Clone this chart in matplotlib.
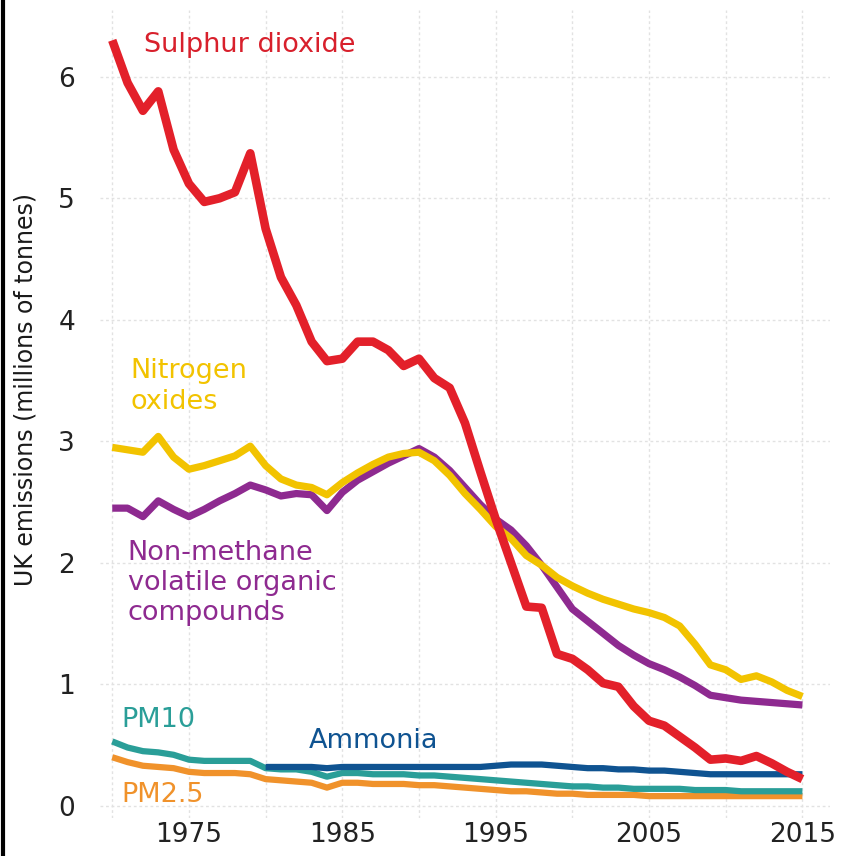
import numpy as np
import matplotlib.pyplot as plt
from matplotlib.lines import Line2D

# UK emissions of air pollutants 1970-2015 (millions of tonnes)
anos = list(range(1970, 2016))

enxofre = [6.30, 5.95, 5.72, 5.88, 5.40, 5.12, 4.97, 5.00, 5.05, 5.37,
           4.75, 4.35, 4.12, 3.82, 3.66, 3.68, 3.82, 3.82, 3.75, 3.62,
           3.68, 3.52, 3.44, 3.15, 2.75, 2.36, 2.00, 1.64, 1.63, 1.25,
           1.21, 1.12, 1.01, 0.98, 0.82, 0.70, 0.66, 0.57, 0.48, 0.38,
           0.39, 0.37, 0.41, 0.35, 0.28, 0.22]

nitrogenio = [2.95, 2.93, 2.91, 3.04, 2.87, 2.77, 2.80, 2.84, 2.88, 2.96,
              2.80, 2.69, 2.64, 2.62, 2.56, 2.66, 2.74, 2.81, 2.87, 2.90,
              2.91, 2.84, 2.72, 2.57, 2.44, 2.30, 2.20, 2.06, 1.98, 1.88,
              1.81, 1.75, 1.70, 1.66, 1.62, 1.59, 1.55, 1.48, 1.33, 1.16,
              1.12, 1.04, 1.07, 1.02, 0.95, 0.90]

compostos = [2.45, 2.45, 2.38, 2.51, 2.44, 2.38, 2.44, 2.51, 2.57, 2.64,
             2.60, 2.55, 2.57, 2.56, 2.43, 2.58, 2.68, 2.75, 2.82, 2.88,
             2.94, 2.87, 2.76, 2.62, 2.48, 2.36, 2.27, 2.14, 1.98, 1.80,
             1.62, 1.52, 1.42, 1.32, 1.24, 1.17, 1.12, 1.06, 0.99, 0.91,
             0.89, 0.87, 0.86, 0.85, 0.84, 0.83]

# amonia so tem dados a partir de 1980
amonia = [np.nan] * 10 + [
          0.32, 0.32, 0.32, 0.32, 0.31, 0.32, 0.32, 0.32, 0.32, 0.32,
          0.32, 0.32, 0.32, 0.32, 0.32, 0.33, 0.34, 0.34, 0.34, 0.33,
          0.32, 0.31, 0.31, 0.30, 0.30, 0.29, 0.29, 0.28, 0.27, 0.26,
          0.26, 0.26, 0.26, 0.26, 0.26, 0.26]

pm10 = [0.53, 0.48, 0.45, 0.44, 0.42, 0.38, 0.37, 0.37, 0.37, 0.37,
        0.31, 0.30, 0.30, 0.28, 0.24, 0.27, 0.27, 0.26, 0.26, 0.26,
        0.25, 0.25, 0.24, 0.23, 0.22, 0.21, 0.20, 0.19, 0.18, 0.17,
        0.16, 0.16, 0.15, 0.15, 0.14, 0.14, 0.14, 0.14, 0.13, 0.13,
        0.13, 0.12, 0.12, 0.12, 0.12, 0.12]

pm25 = [0.40, 0.36, 0.33, 0.32, 0.31, 0.28, 0.27, 0.27, 0.27, 0.26,
        0.22, 0.21, 0.20, 0.19, 0.15, 0.19, 0.19, 0.18, 0.18, 0.18,
        0.17, 0.17, 0.16, 0.15, 0.14, 0.13, 0.12, 0.12, 0.11, 0.10,
        0.10, 0.09, 0.09, 0.09, 0.09, 0.08, 0.08, 0.08, 0.08, 0.08,
        0.08, 0.08, 0.08, 0.08, 0.08, 0.08]

vermelho = "#e3202a"
amarelo = "#f2c300"
roxo = "#8e2a90"
azul = "#0f5391"
verde = "#2a9e98"
laranja = "#f0922b"

fig = plt.figure(figsize=(8.43, 8.56), dpi=100)
ax = fig.add_axes([0.1186, 0.0444, 0.866, 0.944])

ax.plot(anos, pm25, color=laranja, lw=4.5, solid_capstyle="butt")
ax.plot(anos, pm10, color=verde, lw=4.5, solid_capstyle="butt")
ax.plot(anos, amonia, color=azul, lw=4.5, solid_capstyle="butt")
ax.plot(anos, compostos, color=roxo, lw=5.2, solid_capstyle="butt")
ax.plot(anos, nitrogenio, color=amarelo, lw=5.2, solid_capstyle="butt")
ax.plot(anos, enxofre, color=vermelho, lw=6.2, solid_capstyle="butt")

# rotulos das series
ax.text(1972.1, 6.26, "Sulphur dioxide", color="#d8202c", fontsize=19.5, va="center")
ax.text(1971.2, 3.45, "Nitrogen\noxides", color=amarelo, fontsize=19.5, va="center", linespacing=1.25)
ax.text(1971.0, 1.83, "Non-methane\nvolatile organic\ncompounds", color=roxo, fontsize=19.5,
        va="center", linespacing=1.2)
ax.text(1970.6, 0.71, "PM10", color=verde, fontsize=19.5, va="center")
ax.text(1982.8, 0.53, "Ammonia", color=azul, fontsize=19.5, va="center")
ax.text(1970.6, 0.09, "PM2.5", color=laranja, fontsize=19.5, va="center")

ax.set_xlim(1969.2, 2016.8)
ax.set_ylim(-0.1, 6.55)
ax.set_xticks([1975, 1985, 1995, 2005, 2015])
ax.set_xticks([1970, 1980, 1990, 2000, 2010], minor=True)
ax.set_yticks([0, 1, 2, 3, 4, 5, 6])
ax.tick_params(axis="both", which="both", length=0, labelsize=19, colors="#222222")
ax.tick_params(axis="y", pad=18)
ax.tick_params(axis="x", pad=3)
ax.grid(True, which="both", color="#e2e2e2", linestyle=(0, (2, 2)), lw=1)
ax.set_axisbelow(True)
for lado in ax.spines.values():
    lado.set_visible(False)

ax.set_ylabel("UK emissions (millions of tonnes)", fontsize=17, color="#1a1a1a")
ax.yaxis.set_label_coords(-0.085, 0.53)

# borda preta na esquerda
fig.add_artist(Line2D([0.004, 0.004], [0, 1], color="black", lw=3))

plt.savefig("out.png", dpi=100)
